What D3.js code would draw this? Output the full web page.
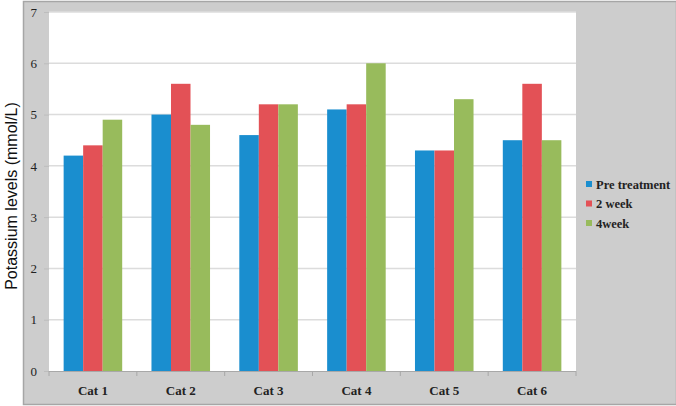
<!DOCTYPE html>
<html>
<head>
<meta charset="utf-8">
<script src="https://cdn.jsdelivr.net/npm/d3@7/dist/d3.min.js"></script>
<style>
  body { margin: 0; background: #fff; }
  svg { display: block; }
</style>
</head>
<body>
<section></section>
<script>
"use strict";

// chart data
const categories = ["Cat 1", "Cat 2", "Cat 3", "Cat 4", "Cat 5", "Cat 6"];
const seriesNames = ["Pre treatment", "2 week", "4week"];
const preTreatment = [4.2, 5.0, 4.6, 5.1, 4.3, 4.5];
const week2 = [4.4, 5.6, 5.2, 5.2, 4.3, 5.6];
const week4 = [4.9, 4.8, 5.2, 6.0, 5.3, 4.5];
const yTicks = [0, 1, 2, 3, 4, 5, 6, 7];

const colors = ["#1a8ecf", "#e35156", "#98bb5c"];

const w = 676;
const h = 406;
const plot = { left: 49, right: 576, top: 12, bottom: 371 };

const svg = d3.select("section").append("svg").attr("width", w).attr("height", h);

// gray chart panel
svg.append("rect")
  .attr("x", 23.5).attr("y", 1.5)
  .attr("width", w - 23).attr("height", 403)
  .attr("fill", "#cdcdcd")
  .attr("stroke", "#a6a6a6")
  .attr("stroke-width", 1.5);

// plot area
svg.append("rect")
  .attr("x", plot.left).attr("y", plot.top)
  .attr("width", plot.right - plot.left).attr("height", plot.bottom - plot.top)
  .attr("fill", "#fff");

// scales
const x0 = d3.scaleBand()
  .domain(categories)
  .range([plot.left, plot.right])
  .paddingInner(1 / 3)
  .paddingOuter(1 / 6);

const x1 = d3.scaleBand()
  .domain(seriesNames)
  .range([0, x0.bandwidth()]);

const y = d3.scaleLinear().domain([0, 7]).range([plot.bottom, plot.top]);

// y axis
const yAxis = d3.axisLeft(y)
  .tickValues(yTicks)
  .tickFormat(d3.format("d"))
  .tickSize(5)
  .tickPadding(7);

svg.append("g")
  .attr("transform", `translate(${plot.left}, 0)`)
  .call(yAxis)
  .attr("font-family", "'Liberation Serif', 'Times New Roman', serif")
  .attr("font-size", 13)
  .call((g) => g.select(".domain").remove())
  .call((g) => g.selectAll(".tick line").attr("stroke", "#bdbdbd"))
  .call((g) => g.selectAll(".tick text").attr("fill", "#222"));

// gridlines
svg.append("g")
  .selectAll("line")
  .data(yTicks.filter((d) => d > 0))
  .enter()
  .append("line")
  .attr("x1", plot.left)
  .attr("x2", plot.right)
  .attr("y1", (d) => y(d))
  .attr("y2", (d) => y(d))
  .attr("stroke", "#dcdcdc")
  .attr("stroke-width", 1.5);

// bars
const rows = categories.map((c, i) => ({
  cat: c,
  values: [preTreatment[i], week2[i], week4[i]],
}));

svg.append("g")
  .selectAll("g")
  .data(rows)
  .enter()
  .append("g")
  .attr("transform", (d) => `translate(${x0(d.cat)}, 0)`)
  .selectAll("rect")
  .data((d) => d.values.map((v, j) => ({ name: seriesNames[j], value: v, j })))
  .enter()
  .append("rect")
  .attr("x", (d) => x1(d.name))
  .attr("y", (d) => y(d.value))
  .attr("width", x1.bandwidth())
  .attr("height", (d) => y(0) - y(d.value))
  .attr("fill", (d) => colors[d.j]);

// x axis: ticks between categories
const step = x0.step();
const boundaries = d3.range(categories.length + 1).map((i) => plot.left + i * step);

const xAxisG = svg.append("g");
xAxisG.append("line")
  .attr("x1", plot.left).attr("x2", plot.right)
  .attr("y1", plot.bottom + 0.5).attr("y2", plot.bottom + 0.5)
  .attr("stroke", "#a8a8a8");
xAxisG.selectAll(".btick")
  .data(boundaries)
  .enter()
  .append("line")
  .attr("x1", (d) => d).attr("x2", (d) => d)
  .attr("y1", plot.bottom).attr("y2", plot.bottom + 5)
  .attr("stroke", "#a8a8a8");
xAxisG.selectAll("text")
  .data(categories)
  .enter()
  .append("text")
  .attr("x", (d) => x0(d) + x0.bandwidth() / 2)
  .attr("y", 395)
  .attr("text-anchor", "middle")
  .attr("font-family", "'Liberation Serif', serif")
  .attr("font-weight", "bold")
  .attr("font-size", 13)
  .attr("fill", "#222")
  .text((d) => d);

// y axis title
svg.append("text")
  .attr("transform", "translate(17, 196) rotate(-90)")
  .attr("text-anchor", "middle")
  .attr("font-family", "'Liberation Sans', Arial, sans-serif")
  .attr("font-size", 16)
  .attr("fill", "#111")
  .text("Potassium levels (mmol/L)");

// legend
const legend = svg.append("g").attr("transform", "translate(586, 184)");
const items = legend.selectAll("g")
  .data(seriesNames)
  .enter()
  .append("g")
  .attr("transform", (d, i) => `translate(0, ${i * 19.5})`);
items.append("rect")
  .attr("x", 0).attr("y", -3)
  .attr("width", 6).attr("height", 6)
  .attr("fill", (d, i) => colors[i]);
items.append("text")
  .attr("x", 10).attr("y", 4.5)
  .attr("font-family", "'Liberation Serif', serif")
  .attr("font-weight", "bold")
  .attr("font-size", 12.5)
  .attr("fill", "#222")
  .text((d) => d);
</script>
</body>
</html>
